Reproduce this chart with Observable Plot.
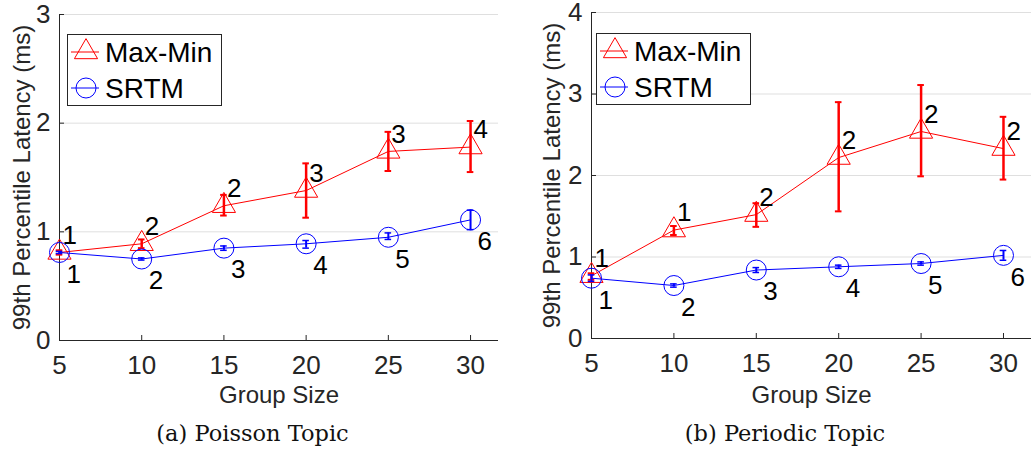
<!DOCTYPE html>
<html>
<head>
<meta charset="utf-8">
<script src="https://cdn.jsdelivr.net/npm/d3@7"></script>
<script src="https://cdn.jsdelivr.net/npm/@observablehq/plot@0.6"></script>
<style>
  html, body { margin: 0; padding: 0; background: #fff; }
  #wrap { display: flex; width: 1031px; height: 452px; overflow: hidden; }
  .panel { position: relative; }
  .caption { font-family: "DejaVu Serif", "Liberation Serif", serif; font-size: 22.5px; color: #111;
             height: 37px; line-height: 36px; text-align: center; white-space: nowrap; }
  .legend { position: absolute; }
</style>
</head>
<body>
<div id="wrap"></div>
<script>
// ---- data ----
const groupSizes = [5, 10, 15, 20, 25, 30];
const yLabel = "99th Percentile Latency (ms)";
const xLabel = "Group Size";
const seriesNames = ["Max-Min", "SRTM"];
const seriesColors = ["#ff0000", "#0000ff"];

// (a) Poisson Topic
const poissonMaxMin    = [0.81, 0.89, 1.24, 1.38, 1.74, 1.78];
const poissonMaxMinLo  = [0.79, 0.85, 1.15, 1.13, 1.56, 1.55];
const poissonMaxMinHi  = [0.83, 0.93, 1.34, 1.63, 1.92, 2.02];
const poissonMaxMinLbl = ["1", "2", "2", "3", "3", "4"];
const poissonSRTM      = [0.81, 0.75, 0.85, 0.89, 0.95, 1.11];
const poissonSRTMLo    = [0.80, 0.74, 0.83, 0.85, 0.93, 1.02];
const poissonSRTMHi    = [0.82, 0.76, 0.87, 0.92, 0.99, 1.20];
const poissonSRTMLbl   = ["1", "2", "3", "4", "5", "6"];

// (b) Periodic Topic
const periodicMaxMin    = [0.77, 1.33, 1.52, 2.22, 2.54, 2.33];
const periodicMaxMinLo  = [0.72, 1.27, 1.37, 1.56, 1.99, 1.95];
const periodicMaxMinHi  = [0.80, 1.38, 1.66, 2.90, 3.11, 2.72];
const periodicMaxMinLbl = ["1", "1", "2", "2", "2", "2"];
const periodicSRTM      = [0.74, 0.65, 0.84, 0.88, 0.92, 1.02];
const periodicSRTMLo    = [0.70, 0.63, 0.81, 0.86, 0.90, 0.96];
const periodicSRTMHi    = [0.78, 0.67, 0.87, 0.90, 0.94, 1.08];
const periodicSRTMLbl   = ["1", "2", "3", "4", "5", "6"];

const xTicks = [5, 10, 15, 20, 25, 30];
const poissonYTicks = [0, 1, 2, 3];
const periodicYTicks = [0, 1, 2, 3, 4];
const captions = ["(a) Poisson Topic", "(b) Periodic Topic"];

const AXIS = "#262626";
const SANS = "'Liberation Sans', Arial, Helvetica, sans-serif";

function rows(vals, lo, hi, lbl) {
  return groupSizes.map((x, i) => ({x, y: vals[i], lo: lo[i], hi: hi[i], label: lbl[i]}));
}
function caps(data) {
  return data.flatMap(d => [{x: d.x, y: d.lo}, {x: d.x, y: d.hi}]);
}

function makePanel(cfg) {
  const mm = rows(cfg.mm, cfg.mmLo, cfg.mmHi, cfg.mmLbl);
  const sr = rows(cfg.sr, cfg.srLo, cfg.srHi, cfg.srLbl);
  const yMax = cfg.yTicks[cfg.yTicks.length - 1];
  const svg = Plot.plot({
    width: cfg.width, height: 415,
    marginLeft: cfg.ml, marginRight: cfg.mr, marginTop: cfg.mt, marginBottom: 415 - cfg.bottom,
    x: {domain: [5, 31.7]},
    y: {domain: [0, yMax]},
    style: {fontFamily: SANS, background: "white", color: AXIS, overflow: "visible"},
    marks: [
      Plot.gridY(cfg.yTicks.filter(v => v > 0), {stroke: "#dfdfdf", strokeOpacity: 1}),
      Plot.axisX(xTicks, {tickSize: -5, tickPadding: 20, fontSize: 26, label: null, tickFormat: d => String(d), stroke: AXIS, fill: AXIS}),
      Plot.axisY(cfg.yTicks, {tickSize: -5, tickPadding: 14, fontSize: 26, label: null, tickFormat: d => String(d), stroke: AXIS, fill: AXIS}),
      Plot.ruleY([0], {stroke: AXIS}),
      Plot.ruleX([5], {stroke: AXIS}),
      Plot.text([yLabel], {frameAnchor: "left", textAnchor: "middle", lineAnchor: "middle", rotate: -90, dx: cfg.ylDx, fontSize: 24, fill: AXIS}),
      Plot.text([xLabel], {frameAnchor: "bottom", textAnchor: "middle", lineAnchor: "middle", dy: cfg.xlDy, fontSize: 24, fill: AXIS}),
      // Max-Min
      Plot.line(mm, {x: "x", y: "y", stroke: seriesColors[0], strokeWidth: 1}),
      Plot.ruleX(mm, {x: "x", y1: "lo", y2: "hi", stroke: seriesColors[0], strokeWidth: 2.5}),
      Plot.ruleY(caps(mm), {x1: d => d.x - 0.2, x2: d => d.x + 0.2, y: "y", stroke: seriesColors[0], strokeWidth: 2}),
      Plot.dot(mm, {x: "x", y: "y", symbol: "triangle", r: 8.6, stroke: seriesColors[0], strokeWidth: 1, fill: "none"}),
      Plot.text(mm, {x: "x", y: "y", text: "label", dx: 3, dy: -17, textAnchor: "start", fontSize: 26, fill: "#000"}),
      // SRTM
      Plot.line(sr, {x: "x", y: "y", stroke: seriesColors[1], strokeWidth: 1}),
      Plot.ruleX(sr, {x: "x", y1: "lo", y2: "hi", stroke: seriesColors[1], strokeWidth: 2}),
      Plot.ruleY(caps(sr), {x1: d => d.x - 0.2, x2: d => d.x + 0.2, y: "y", stroke: seriesColors[1], strokeWidth: 1.5}),
      Plot.dot(sr, {x: "x", y: "y", symbol: "circle", r: 10, stroke: seriesColors[1], strokeWidth: 1, fill: "none"}),
      Plot.text(sr, {x: "x", y: "y", text: "label", dx: 7, dy: 22, textAnchor: "start", fontSize: 26, fill: "#000"})
    ]
  });
  const div = document.createElement("div");
  div.className = "panel";
  div.style.width = cfg.width + "px";
  div.appendChild(svg);

  // legend
  const lg = document.createElement("div");
  lg.className = "legend";
  lg.style.left = cfg.legLeft + "px";
  lg.style.top = cfg.legTop + "px";
  const W = 155, H = 72;
  const ns = "http://www.w3.org/2000/svg";
  const ls = document.createElementNS(ns, "svg");
  ls.setAttribute("width", W); ls.setAttribute("height", H);
  let html = `<rect x="0.5" y="0.5" width="${W - 1}" height="${H - 1}" fill="white" stroke="${AXIS}" stroke-width="1"/>`;
  const symbols = [d3.symbolTriangle, d3.symbolCircle];
  const sizes = [8.6 * 8.6 * Math.PI, 10 * 10 * Math.PI];
  seriesNames.forEach((name, i) => {
    const cy = 18 + i * 36;
    html += `<line x1="4" x2="32" y1="${cy}" y2="${cy}" stroke="${seriesColors[i]}" stroke-width="1"/>`;
    html += `<path transform="translate(19,${cy})" d="${d3.symbol(symbols[i], sizes[i])()}" fill="none" stroke="${seriesColors[i]}" stroke-width="1"/>`;
    html += `<text x="38" y="${cy}" dy="0.35em" font-family="${SANS.replace(/'/g, "")}" font-size="28" fill="#000">${name}</text>`;
  });
  ls.innerHTML = html;
  lg.appendChild(ls);
  div.appendChild(lg);

  const cap = document.createElement("div");
  cap.className = "caption";
  cap.style.paddingLeft = cfg.capShift > 0 ? (2 * cfg.capShift) + "px" : "0px";
  cap.style.paddingRight = cfg.capShift < 0 ? (-2 * cfg.capShift) + "px" : "0px";
  cap.textContent = cfg.caption;
  div.appendChild(cap);
  return div;
}

const wrap = document.getElementById("wrap");
wrap.appendChild(makePanel({
  width: 515, ml: 59, mr: 17, mt: 14, bottom: 340, yTicks: poissonYTicks,
  mm: poissonMaxMin, mmLo: poissonMaxMinLo, mmHi: poissonMaxMinHi, mmLbl: poissonMaxMinLbl,
  sr: poissonSRTM, srLo: poissonSRTMLo, srHi: poissonSRTMHi, srLbl: poissonSRTMLbl,
  ylDx: -37, xlDy: 55, legLeft: 67, legTop: 34, caption: captions[0], capShift: -5
}));
wrap.appendChild(makePanel({
  width: 516, ml: 76, mr: 0, mt: 12, bottom: 338, yTicks: periodicYTicks,
  mm: periodicMaxMin, mmLo: periodicMaxMinLo, mmHi: periodicMaxMinHi, mmLbl: periodicMaxMinLbl,
  sr: periodicSRTM, srLo: periodicSRTMLo, srHi: periodicSRTMHi, srLbl: periodicSRTMLbl,
  ylDx: -39, xlDy: 57, legLeft: 81, legTop: 33, caption: captions[1], capShift: 12
}));
</script>
</body>
</html>
